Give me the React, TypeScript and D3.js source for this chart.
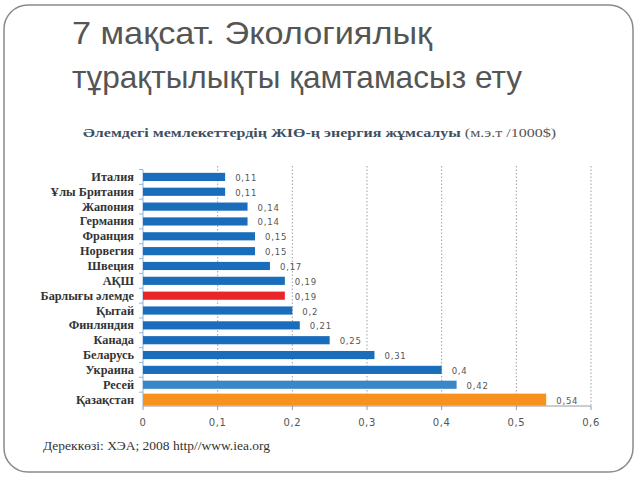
import React from "react";
import * as d3 from "d3";

// --- Data ---
const CATEGORIES = [
  "Италия",
  "Ұлы Британия",
  "Жапония",
  "Германия",
  "Франция",
  "Норвегия",
  "Швеция",
  "АҚШ",
  "Барлығы әлемде",
  "Қытай",
  "Финляндия",
  "Канада",
  "Беларусь",
  "Украина",
  "Ресей",
  "Қазақстан",
];
const VALUES = [
  0.11, 0.11, 0.14, 0.14, 0.15, 0.15, 0.17, 0.19, 0.19, 0.2, 0.21, 0.25, 0.31,
  0.4, 0.42, 0.54,
];
const X_TICKS = [0, 0.1, 0.2, 0.3, 0.4, 0.5, 0.6];
const WORLD = "Барлығы әлемде";
const RUSSIA = "Ресей";
const KAZ = "Қазақстан";

const W = 640;
const H = 480;
const fmt = (v: number) => String(v).replace(".", ",");

export default function App() {
  const x = d3.scaleLinear().domain([0, 0.6]).range([143, 591]);
  const y = d3.scaleBand<string>().domain(CATEGORIES).range([169.5, 407]);
  const bw = y.bandwidth();
  const axisY = 406;

  const colorOf = (c: string) =>
    c === WORLD ? "#e8262a" : c === KAZ ? "#f7921e" : c === RUSSIA ? "#3b86c8" : "#1a6dbb";

  return (
    <div style={{ position: "fixed", left: 0, top: 0 }}>
      <svg width={W} height={H} style={{ display: "block", background: "#fff" }}>
        {/* slide frame */}
        <rect x={4} y={5} width={629} height={467} rx={24} ry={24} fill="none" stroke="#8a8a8a" strokeWidth={1.5} />

        {/* slide title (narrow face imitated by squeezing to the measured widths) */}
        <g fontFamily="'Liberation Sans', Arial, sans-serif" fontSize={32} fill="#555">
          <text x={72} y={44} textLength={360} lengthAdjust="spacingAndGlyphs">
            7 мақсат. Экологиялық
          </text>
          <text x={72} y={88} textLength={450} lengthAdjust="spacingAndGlyphs">
            тұрақтылықты қамтамасыз ету
          </text>
        </g>

        {/* chart title */}
        <text
          x={83}
          y={137}
          fontFamily="'Liberation Serif', serif"
          fontSize={13.5}
          textLength={473}
          lengthAdjust="spacingAndGlyphs"
        >
          <tspan fontWeight="bold" fill="#3e4f62">Әлемдегі мемлекеттердің ЖІӨ-ң энергия жұмсалуы</tspan>
          <tspan fill="#555"> (м.э.т /1000$)</tspan>
        </text>

        {/* gridlines */}
        {X_TICKS.slice(1).map((t) => (
          <line key={t} x1={x(t)} x2={x(t)} y1={166} y2={axisY} stroke="#a0a0a0" strokeWidth={1} strokeDasharray="1.5,2" />
        ))}

        {/* left axis */}
        <line x1={x(0)} x2={x(0)} y1={169.5} y2={axisY} stroke="#8fb6dc" strokeWidth={1} />
        {CATEGORIES.map((c) => (
          <line key={c} x1={x(0) - 4} x2={x(0)} y1={y(c)!} y2={y(c)!} stroke="#8fb6dc" strokeWidth={1} />
        ))}

        {/* bars */}
        {CATEGORIES.map((c, i) => {
          const h = c === KAZ ? bw * 0.8 : bw * 0.55;
          const cy = y(c)! + bw / 2;
          return (
            <g key={c}>
              <rect x={x(0)} y={cy - h / 2} width={x(VALUES[i]) - x(0)} height={h} fill={colorOf(c)} />
              <text
                x={x(VALUES[i]) + 10}
                y={cy + 4}
                fontFamily="'DejaVu Sans', sans-serif"
                fontSize={8.5}
                letterSpacing={0.8}
                fill="#555"
              >
                {fmt(VALUES[i])}
              </text>
              <text
                x={134}
                y={cy + 4}
                textAnchor="end"
                fontFamily="'Liberation Serif', serif"
                fontSize={12.3}
                fontWeight="bold"
                fill="#333"
              >
                {c}
              </text>
            </g>
          );
        })}

        {/* x axis */}
        <line x1={x(0)} x2={x(0.6)} y1={axisY} y2={axisY} stroke="#9a9a9a" strokeWidth={1} />
        {X_TICKS.map((t) => (
          <g key={t}>
            <line x1={x(t)} x2={x(t)} y1={axisY} y2={axisY + 4} stroke="#9a9a9a" strokeWidth={1} />
            <text
              x={x(t)}
              y={426}
              textAnchor="middle"
              fontFamily="'DejaVu Sans', sans-serif"
              fontSize={10}
              letterSpacing={0.6}
              fill="#555"
            >
              {fmt(t)}
            </text>
          </g>
        ))}

        {/* source */}
        <text x={43} y={450} fontFamily="'Liberation Serif', serif" fontSize={13.5} fill="#333">
          Дереккөзі: ХЭА; 2008 http//www.iea.org
        </text>
      </svg>
    </div>
  );
}
